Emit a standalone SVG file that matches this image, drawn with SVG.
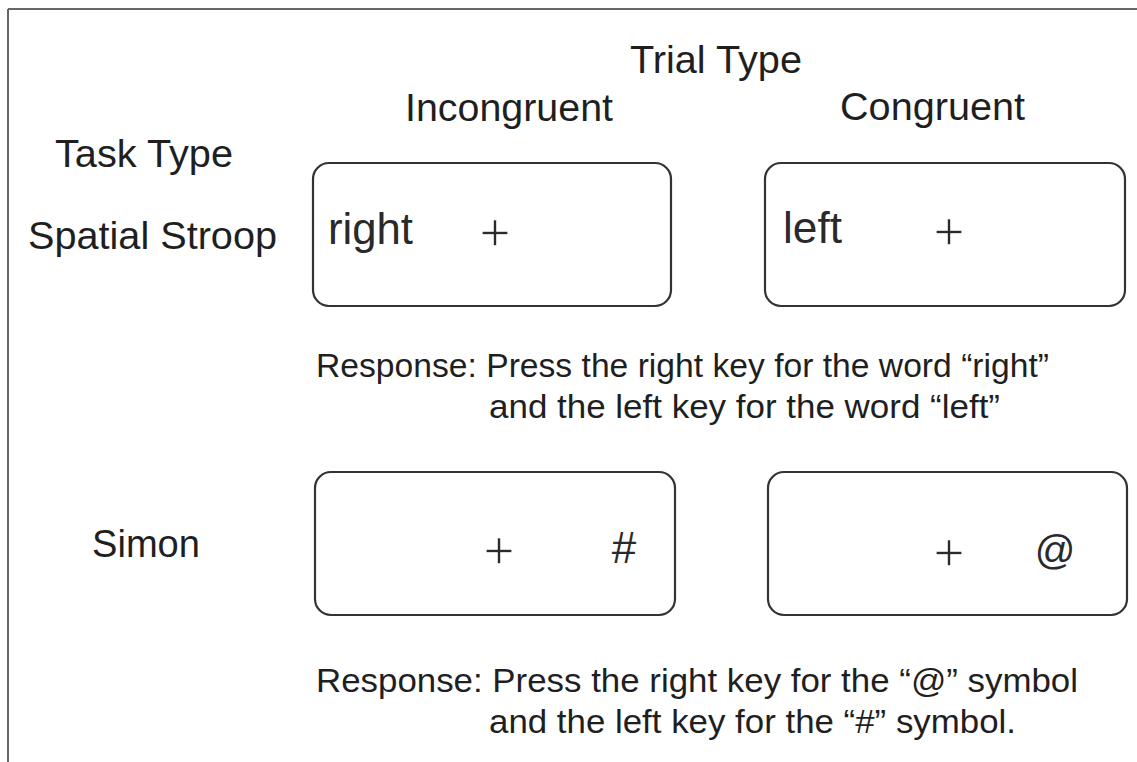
<svg xmlns="http://www.w3.org/2000/svg" width="1137" height="762" viewBox="0 0 1137 762">
<style>
.lbl{font-family:"Liberation Sans",Arial,sans-serif;font-size:38px;fill:#1f1f1f}
.stim{font-family:"Liberation Sans",Arial,sans-serif;font-size:44px;fill:#2a2a2a}
.sym{font-family:"Liberation Sans",Arial,sans-serif;font-size:44px;fill:#2a2a2a;text-anchor:middle}
.plus{font-family:"Liberation Sans",Arial,sans-serif;font-size:54px;fill:#2a2a2a;text-anchor:middle;stroke:#fff;stroke-width:1.4}
.resp{font-family:"Liberation Sans",Arial,sans-serif;font-size:33px;fill:#1f1f1f}
.box{fill:#fff;stroke:#333;stroke-width:2.2}
.frame{stroke:#666;stroke-width:2;fill:none}
</style>
<rect width="1137" height="762" fill="#fff"/>
<g id="frame">
<line class="frame" x1="8" y1="9" x2="1137" y2="9"/>
<line class="frame" x1="8" y1="9" x2="8" y2="762"/>
</g>
<g id="headers">
<text class="lbl" x="630" y="73" textLength="172" lengthAdjust="spacingAndGlyphs">Trial Type</text>
<text class="lbl" x="405" y="121" textLength="208" lengthAdjust="spacingAndGlyphs">Incongruent</text>
<text class="lbl" x="840" y="120" textLength="185" lengthAdjust="spacingAndGlyphs">Congruent</text>
<text class="lbl" x="55" y="167" textLength="178" lengthAdjust="spacingAndGlyphs">Task Type</text>
<text class="lbl" x="28" y="249" textLength="249" lengthAdjust="spacingAndGlyphs">Spatial Stroop</text>
<text class="lbl" x="92" y="557" textLength="108" lengthAdjust="spacingAndGlyphs">Simon</text>
</g>
<g id="stroop-incongruent">
<rect class="box" x="313" y="163" width="358" height="143" rx="16"/>
<text class="stim" x="328" y="244" textLength="85" lengthAdjust="spacingAndGlyphs">right</text>
<text class="plus" x="495" y="251">+</text>
</g>
<g id="stroop-congruent">
<rect class="box" x="765" y="163" width="360" height="143" rx="16"/>
<text class="stim" x="783" y="243" textLength="59" lengthAdjust="spacingAndGlyphs">left</text>
<text class="plus" x="949" y="250">+</text>
</g>
<g id="stroop-response">
<text class="resp" x="316" y="377" textLength="733" lengthAdjust="spacingAndGlyphs">Response: Press the right key for the word “right”</text>
<text class="resp" x="489" y="418" textLength="511" lengthAdjust="spacingAndGlyphs">and the left key for the word “left”</text>
</g>
<g id="simon-incongruent">
<rect class="box" x="315" y="472" width="360" height="143" rx="16"/>
<text class="plus" x="499" y="569">+</text>
<text class="sym" x="624" y="563">#</text>
</g>
<g id="simon-congruent">
<rect class="box" x="768" y="472" width="359" height="143" rx="16"/>
<text class="plus" x="949" y="571">+</text>
<text class="sym" x="1055" y="564" style="font-size:40px">@</text>
</g>
<g id="simon-response">
<text class="resp" x="316" y="692" textLength="762" lengthAdjust="spacingAndGlyphs">Response: Press the right key for the “@” symbol</text>
<text class="resp" x="489" y="733" textLength="527" lengthAdjust="spacingAndGlyphs">and the left key for the “#” symbol.</text>
</g>
<g id="connectors"/>
</svg>
